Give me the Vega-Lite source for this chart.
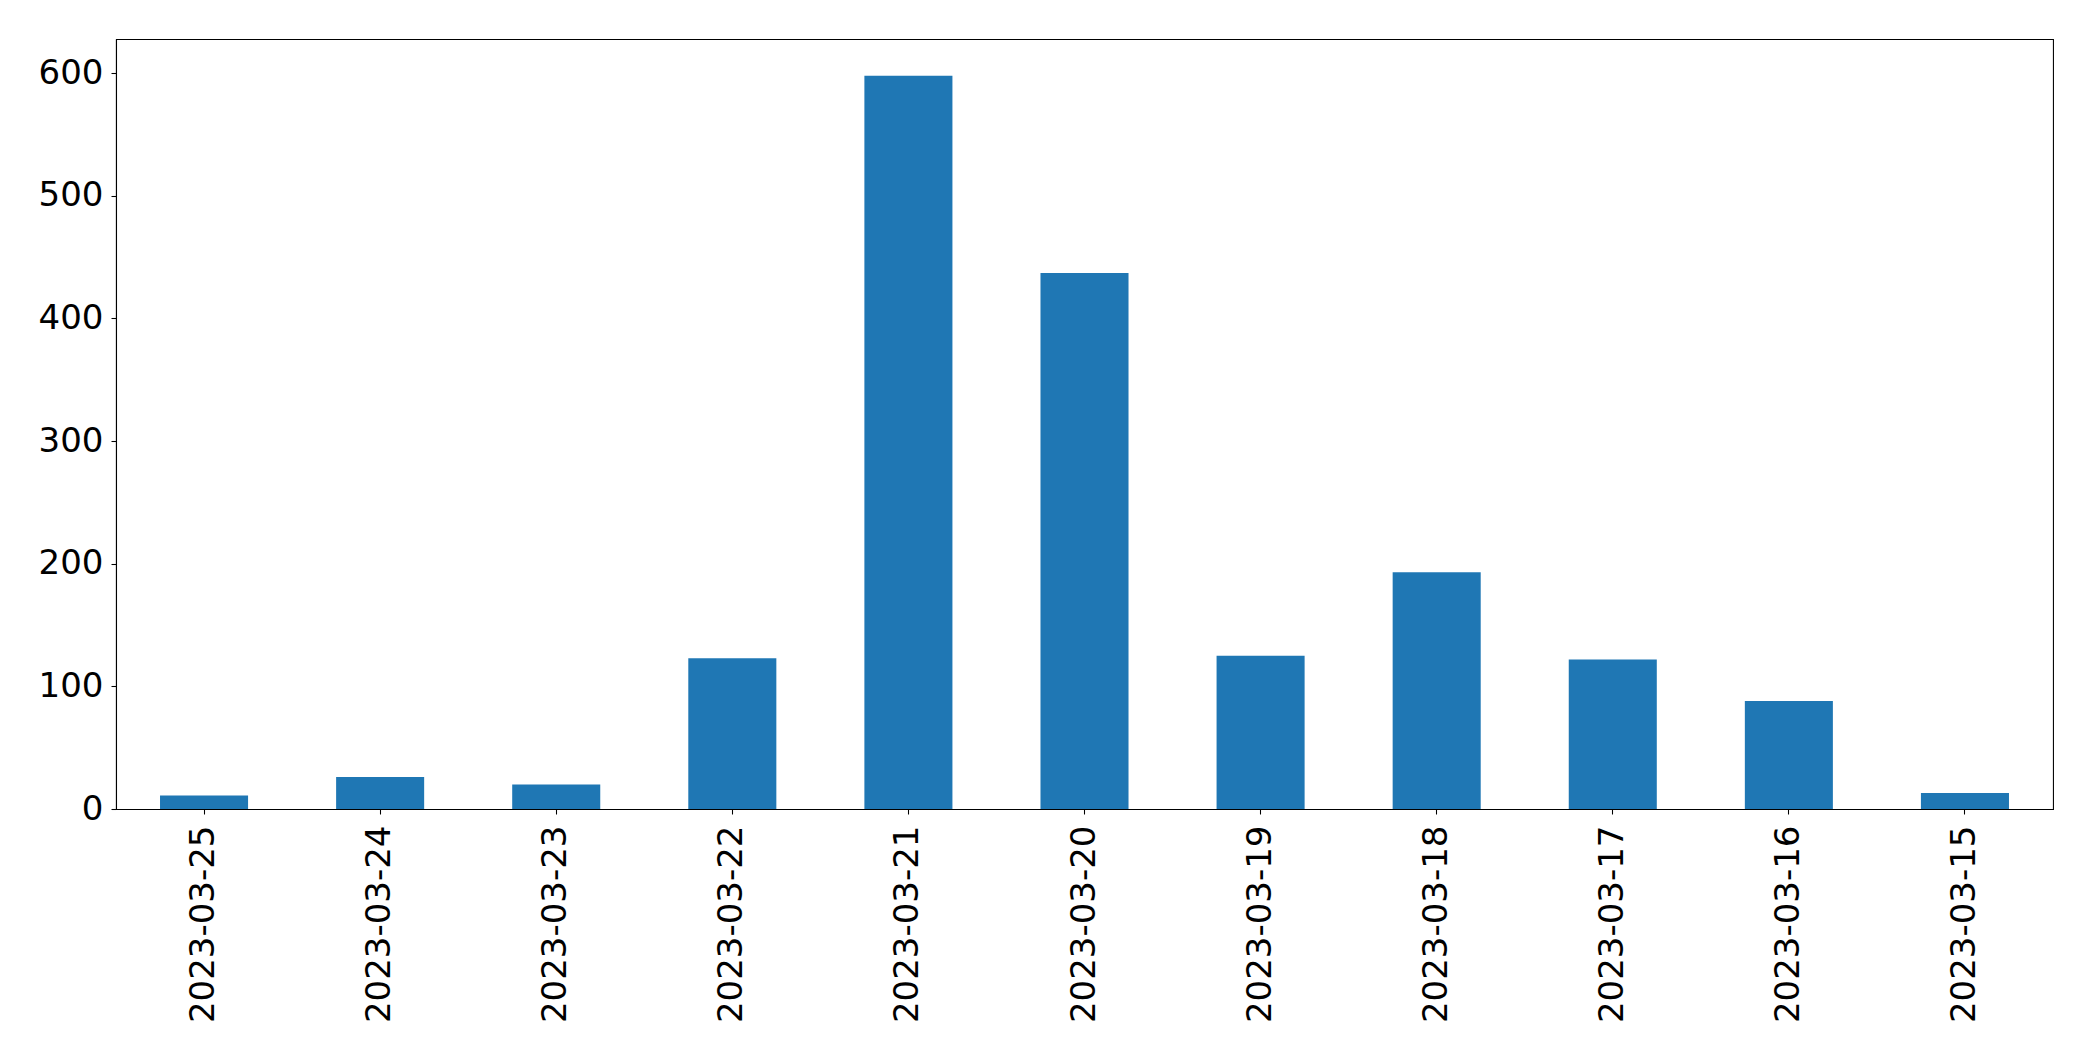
{
  "$schema": "https://vega.github.io/schema/vega-lite/v6.json",
  "width": 1937,
  "height": 770,
  "autosize": {"type": "none"},
  "padding": {"left": 116, "top": 39, "right": 40, "bottom": 252},
  "background": "white",
  "config": {
    "view": {"stroke": "black", "strokeWidth": 1.07},
    "font": "DejaVu Sans"
  },
  "data": {
    "values": [
      {"date": "2023-03-25", "count": 11},
      {"date": "2023-03-24", "count": 26},
      {"date": "2023-03-23", "count": 20},
      {"date": "2023-03-22", "count": 123},
      {"date": "2023-03-21", "count": 598},
      {"date": "2023-03-20", "count": 437},
      {"date": "2023-03-19", "count": 125},
      {"date": "2023-03-18", "count": 193},
      {"date": "2023-03-17", "count": 122},
      {"date": "2023-03-16", "count": 88},
      {"date": "2023-03-15", "count": 13}
    ]
  },
  "mark": {"type": "bar", "color": "#1f77b4"},
  "encoding": {
    "x": {
      "field": "date",
      "type": "nominal",
      "sort": null,
      "scale": {"paddingInner": 0.5, "paddingOuter": 0.25},
      "axis": {
        "title": null,
        "labelAngle": -90,
        "labelAlign": "right",
        "labelBaseline": "middle",
        "labelFont": "DejaVu Sans",
        "labelFontSize": 34,
        "labelColor": "black",
        "labelLimit": 0,
        "labelPadding": 11,
        "tickSize": 5,
        "tickColor": "black",
        "tickWidth": 1.07,
        "domainColor": "black",
        "domainWidth": 1.07,
        "grid": false
      }
    },
    "y": {
      "field": "count",
      "type": "quantitative",
      "scale": {"domain": [0, 627.9], "nice": false, "zero": true},
      "axis": {
        "title": null,
        "values": [0, 100, 200, 300, 400, 500, 600],
        "labelFont": "DejaVu Sans",
        "labelFontSize": 34,
        "labelColor": "black",
        "labelPadding": 8,
        "tickSize": 5,
        "tickColor": "black",
        "tickWidth": 1.07,
        "domainColor": "black",
        "domainWidth": 1.07,
        "grid": false
      }
    }
  }
}
